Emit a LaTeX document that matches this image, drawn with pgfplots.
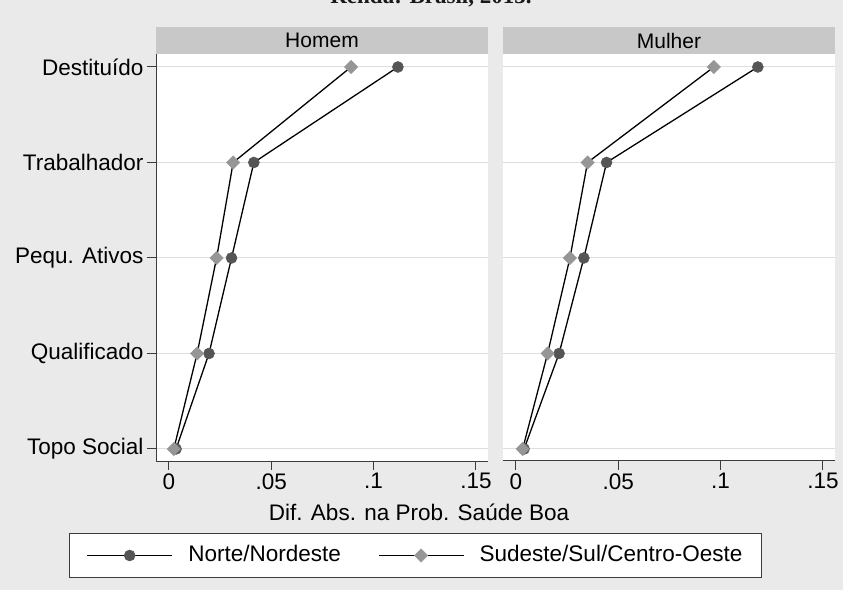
\documentclass[border=0pt]{standalone}
\usepackage{fontspec}
\setmainfont{Liberation Sans}
\newfontfamily\titleserif{Liberation Serif}
\usepackage{pgfplots}
\pgfplotsset{compat=1.18}
\definecolor{bgc}{HTML}{EAEAEA}
\definecolor{stripc}{HTML}{C8C8C8}
\definecolor{gridc}{HTML}{DEDEDE}
\definecolor{cdark}{HTML}{555555}
\definecolor{clight}{HTML}{969696}
\definecolor{axc}{HTML}{3C3C3C}
\newcommand{\lab}{\fontsize{22.5bp}{27bp}\selectfont}
\pgfplotsset{
  panel/.style={
    scale only axis, width=332bp, height=407bp,
    xmin=-0.0063, xmax=0.1559, ymin=0.874, ymax=5.136,
    axis x line*=bottom, axis y line*=left,
    axis line style={axc, line width=1bp},
    xtick={0,0.05,0.1,0.15}, xticklabels={0,.05,.1,.15},
    ytick={1,2,3,4,5},
    ymajorgrids, grid style={gridc, line width=1bp},
    tick style={axc, line width=1bp},
    tick align=outside, major tick length=9bp,
    axis background/.style={fill=white},
    ticklabel style={font=\lab},
    every axis plot/.append style={black, line width=1.3bp},
    legend image code/.code={\draw[mark repeat=2, mark phase=2, ##1] plot coordinates {(0bp,0bp) (42.5bp,0bp) (85bp,0bp)};},
  },
  sN/.style={mark=*, mark size=5.5bp, mark options={fill=cdark, draw=cdark, line width=0.5bp}},
  sS/.style={mark=square*, mark size=4.7bp, mark options={rotate=45, fill=clight, draw=clight, line width=0.5bp}},
}
\begin{document}
\begin{tikzpicture}
\useasboundingbox (0bp,0bp) rectangle (843bp,590bp);
\fill[bgc] (0bp,0bp) rectangle (843bp,590bp);
\node[anchor=base, font=\titleserif\bfseries\fontsize{23bp}{27bp}\selectfont, text=black!90] at (431bp,586.7bp) {Renda: Brasil, 2013.};

\begin{axis}[panel, name=L, at={(156bp,129bp)}, anchor=south west,
  yticklabels={Topo Social, Qualificado, Pequ. Ativos, Trabalhador, Destituído},
  legend columns=2,
  legend style={at={(-0.262,-0.1769)}, anchor=north west, draw=axc, fill=white, line width=1bp, font=\lab,
    inner xsep=17bp, inner ysep=10bp, nodes={inner sep=2bp, text height=16bp, text depth=4bp},
    /tikz/every odd column/.style={column sep=13.5bp},
    /tikz/every even column/.style={column sep=35bp}},
]
\addplot[sN] coordinates {(0.1119,5) (0.0415,4) (0.0306,3) (0.0196,2) (0.0035,1)};
\addlegendentry{Norte/Nordeste}
\addplot[sS] coordinates {(0.0890,5) (0.0314,4) (0.0233,3) (0.0138,2) (0.0024,1)};
\addlegendentry{Sudeste/Sul/Centro-Oeste}
\end{axis}

\begin{axis}[panel, name=R, at={(503bp,129bp)}, anchor=south west,
  yticklabels={}, y axis line style={draw=none}, every y tick/.append style={draw=none},
]
\addplot[sN] coordinates {(0.1182,5) (0.0443,4) (0.0332,3) (0.0211,2) (0.0040,1)};
\addplot[sS] coordinates {(0.0967,5) (0.0350,4) (0.0264,3) (0.0155,2) (0.0033,1)};
\end{axis}

\fill[stripc] (L.north west) rectangle ([yshift=27bp]L.north east);
\node[font=\fontsize{21bp}{25bp}\selectfont] at ([yshift=13.5bp]L.north) {Homem};
\fill[stripc] (R.north west) rectangle ([yshift=27bp]R.north east);
\node[font=\fontsize{21bp}{25bp}\selectfont] at ([yshift=13.5bp]R.north) {Mulher};

\node[font=\lab] at (419bp,78bp) {Dif. Abs. na Prob. Saúde Boa};
\end{tikzpicture}
\end{document}
